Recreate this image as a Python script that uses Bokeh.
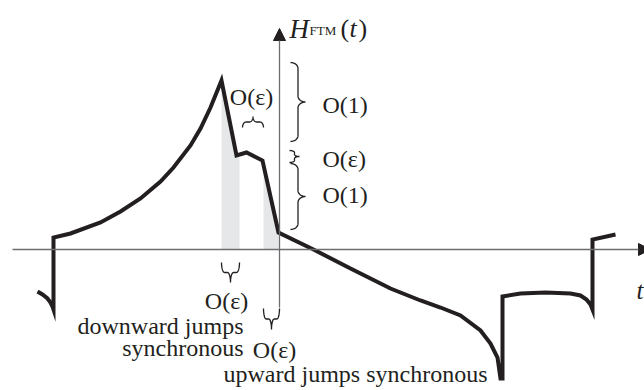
import numpy as np
from bokeh.plotting import figure
from bokeh.models import Label, Arrow, NormalHead, Range1d
from bokeh.embed import file_html
from bokeh.resources import INLINE

# ---- data (schematic units: 1 unit = 100 px) ----
t_curve = [-2.42, -2.37, -2.32, -2.29, -2.27, -2.26, -2.26, -2.09, -1.79, -1.59,
           -1.39, -1.19, -1.06, -0.89, -0.79, -0.69, -0.58, -0.43, -0.33, -0.17,
           -0.01, 0.34, 0.71, 1.11, 1.41, 1.61, 1.81, 2.01, 2.11, 2.18, 2.21,
           2.23, 2.23, 2.41, 2.66, 2.91, 3.01, 3.07, 3.11, 3.13, 3.13, 3.36]
H_curve = [-0.42, -0.45, -0.49, -0.53, -0.57, -0.60, 0.12, 0.16, 0.27, 0.38,
           0.51, 0.68, 0.82, 1.04, 1.21, 1.42, 1.69, 0.94, 0.97, 0.89,
           0.17, 0.00, -0.19, -0.39, -0.51, -0.58, -0.66, -0.81, -0.94, -1.08, -1.29,
           -1.29, -0.47, -0.44, -0.43, -0.44, -0.46, -0.50, -0.55, -0.60, 0.10, 0.15]

band1_t = [-0.58, -0.43, -0.40, -0.40, -0.58]
band1_H = [1.69, 0.94, 0.95, 0.0, 0.0]
band2_t = [-0.16, -0.01, -0.01, -0.16]
band2_H = [0.845, 0.17, 0.0, 0.0]

# braces: (start_t, start_H, end_t, end_H, depth)
braces = [
    (-0.37, 1.22, -0.16, 1.22, 0.11),   # top O(eps)
    (0.11, 1.87, 0.11, 1.08, 0.15),     # O(1)
    (0.10, 0.99, 0.10, 0.87, 0.10),     # O(eps)
    (0.11, 0.86, 0.11, 0.20, 0.15),     # O(1)
    (-0.58, -0.13, -0.40, -0.13, -0.20),  # bottom O(eps) 1
    (-0.16, -0.59, 0.00, -0.59, -0.21),   # bottom O(eps) 2
]

labels_txt = ["O(ε)", "O(1)", "O(ε)", "O(1)", "O(ε)", "O(ε)",
              "downward jumps", "synchronous", "upward jumps synchronous"]
labels_t = [-0.28, 0.43, 0.43, 0.43, -0.53, -0.05, -0.36, -0.36, -0.56]
labels_H = [1.53, 1.45, 0.91, 0.55, -0.51, -1.00, -0.76, -0.98, -1.24]
labels_align = ["center", "left", "left", "left", "center", "center", "right", "right", "left"]

INK = "#231f20"
FONT = "Liberation Serif"

p = figure(width=644, height=390, x_range=Range1d(-2.79, 3.65), y_range=Range1d(-1.41, 2.49),
           output_backend="svg", toolbar_location=None, min_border=0,
           x_axis_location=None, y_axis_location=None, outline_line_color=None)
p.grid.visible = False
p.background_fill_color = "white"

# shaded bands
p.patch(band1_t, band1_H, fill_color="#e6e7e8", line_color=None)
p.patch(band2_t, band2_H, fill_color="#e6e7e8", line_color=None)

# axes
p.add_layout(Arrow(x_start=-2.67, y_start=0, x_end=3.71, y_end=0, line_color="#6d6e71", line_width=1.3,
                   end=NormalHead(size=12, fill_color=INK, line_color=INK)))
p.add_layout(Arrow(x_start=0, y_start=-0.58, x_end=0, y_end=2.21, line_color="#6d6e71", line_width=1.3,
                   end=NormalHead(size=12, fill_color=INK, line_color=INK)))

# curve
p.line(t_curve, H_curve, line_width=4, line_color=INK, line_join="miter")


def brace(x0, y0, x1, y1, depth, curl=0.06, n=16):
    dx, dy = x1 - x0, y1 - y0
    L = np.hypot(dx, dy)
    ux, uy = dx / L, dy / L
    nx, ny = -uy, ux
    a = min(curl, L / 6)
    d = depth
    th = np.linspace(0, np.pi / 2, n)
    s1 = a - a * np.cos(th)
    h1 = d / 2 * np.sin(th)
    s2 = L / 2 - a + a * np.sin(th)
    h2 = d - d / 2 * np.cos(th)
    s_half = np.concatenate([s1, s2])
    h_half = np.concatenate([h1, h2])
    s_all = np.concatenate([s_half, L - s_half[::-1]])
    h_all = np.concatenate([h_half, h_half[::-1]])
    xs = x0 + s_all * ux + h_all * nx
    ys = y0 + s_all * uy + h_all * ny
    return xs, ys


for b in braces:
    xs, ys = brace(*b)
    p.line(xs, ys, line_color=INK, line_width=1.3)

for txt, tx, hy, al in zip(labels_txt, labels_t, labels_H, labels_align):
    p.add_layout(Label(x=tx, y=hy, text=txt, text_align=al, text_baseline="middle",
                       text_font=FONT, text_font_size="24px", text_color=INK))

# y-axis title H_FTM(t)
p.add_layout(Label(x=0.10, y=2.21, text="H", text_font=FONT, text_font_style="italic",
                   text_font_size="27px", text_baseline="alphabetic", text_color=INK))
p.add_layout(Label(x=0.30, y=2.19, text="FTM", text_font=FONT,
                   text_font_size="13px", text_baseline="alphabetic", text_color=INK))
p.add_layout(Label(x=0.61, y=2.21, text="(", text_font=FONT,
                   text_font_size="26px", text_baseline="alphabetic", text_color=INK))
p.add_layout(Label(x=0.70, y=2.21, text="t", text_font=FONT, text_font_style="italic",
                   text_font_size="26px", text_baseline="alphabetic", text_color=INK))
p.add_layout(Label(x=0.79, y=2.21, text=")", text_font=FONT,
                   text_font_size="26px", text_baseline="alphabetic", text_color=INK))
# x-axis title at the right edge
p.add_layout(Label(x=3.64, y=-0.41, text="t", text_font=FONT, text_font_style="italic",
                   text_align="right", text_font_size="25px", text_baseline="alphabetic",
                   text_color=INK))

open("out.html", "w").write(file_html(p, INLINE))
